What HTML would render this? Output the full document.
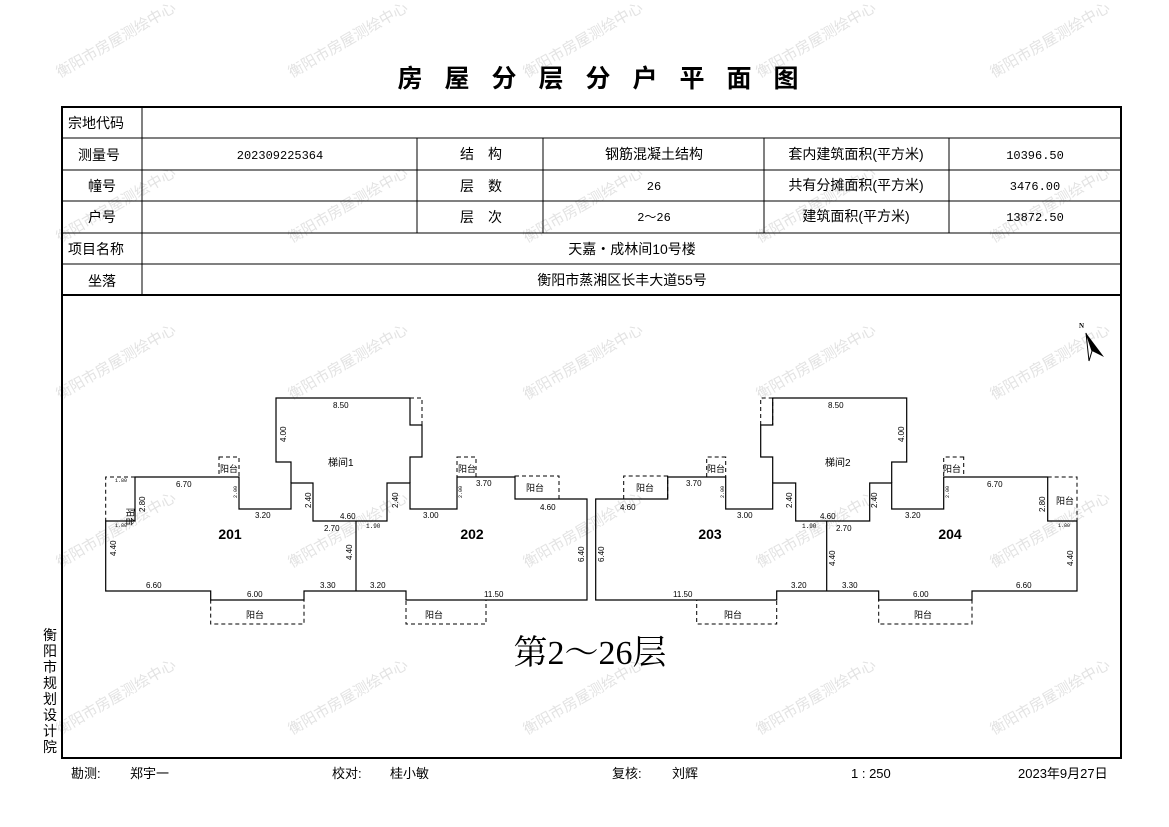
<!DOCTYPE html>
<html><head><meta charset="utf-8"><style>
html,body{margin:0;padding:0;background:#fff;}
svg{display:block;}
text{font-family:"Liberation Sans","Noto Sans CJK SC",sans-serif;}
.t{font-size:14px;fill:#000;}
.m{font-family:"Liberation Mono",monospace;font-size:12px;}
.d{font-size:8px;font-family:"Liberation Mono","Noto Sans CJK SC",monospace;fill:#000;}
.s{font-size:5px;font-family:"Liberation Mono",monospace;fill:#000;}
.w{font-size:15px;fill:#e3e3e3;}
.dash{fill:none;stroke:#000;stroke-width:1;stroke-dasharray:4,3;}
</style></head><body>
<svg width="1169" height="827" viewBox="0 0 1169 827" xmlns="http://www.w3.org/2000/svg">
<g class="w">
<text transform="translate(60,78) rotate(-30)">衡阳市房屋测绘中心</text>
<text transform="translate(292,78) rotate(-30)">衡阳市房屋测绘中心</text>
<text transform="translate(527,78) rotate(-30)">衡阳市房屋测绘中心</text>
<text transform="translate(760,78) rotate(-30)">衡阳市房屋测绘中心</text>
<text transform="translate(994,78) rotate(-30)">衡阳市房屋测绘中心</text>
<text transform="translate(60,243) rotate(-30)">衡阳市房屋测绘中心</text>
<text transform="translate(292,243) rotate(-30)">衡阳市房屋测绘中心</text>
<text transform="translate(527,243) rotate(-30)">衡阳市房屋测绘中心</text>
<text transform="translate(760,243) rotate(-30)">衡阳市房屋测绘中心</text>
<text transform="translate(994,243) rotate(-30)">衡阳市房屋测绘中心</text>
<text transform="translate(60,400) rotate(-30)">衡阳市房屋测绘中心</text>
<text transform="translate(292,400) rotate(-30)">衡阳市房屋测绘中心</text>
<text transform="translate(527,400) rotate(-30)">衡阳市房屋测绘中心</text>
<text transform="translate(760,400) rotate(-30)">衡阳市房屋测绘中心</text>
<text transform="translate(994,400) rotate(-30)">衡阳市房屋测绘中心</text>
<text transform="translate(60,568) rotate(-30)">衡阳市房屋测绘中心</text>
<text transform="translate(292,568) rotate(-30)">衡阳市房屋测绘中心</text>
<text transform="translate(527,568) rotate(-30)">衡阳市房屋测绘中心</text>
<text transform="translate(760,568) rotate(-30)">衡阳市房屋测绘中心</text>
<text transform="translate(994,568) rotate(-30)">衡阳市房屋测绘中心</text>
<text transform="translate(60,735) rotate(-30)">衡阳市房屋测绘中心</text>
<text transform="translate(292,735) rotate(-30)">衡阳市房屋测绘中心</text>
<text transform="translate(527,735) rotate(-30)">衡阳市房屋测绘中心</text>
<text transform="translate(760,735) rotate(-30)">衡阳市房屋测绘中心</text>
<text transform="translate(994,735) rotate(-30)">衡阳市房屋测绘中心</text>
</g>

<text x="609" y="87" text-anchor="middle" style="font-size:25px;font-weight:bold;letter-spacing:22px;font-family:'Noto Sans CJK SC',sans-serif">房屋分层分户平面图</text>

<rect x="62" y="107" width="1059" height="651" fill="none" stroke="#000" stroke-width="2"/>
<g stroke="#000" stroke-width="1">
<line x1="62" y1="138" x2="1121" y2="138"/>
<line x1="62" y1="170" x2="1121" y2="170"/>
<line x1="62" y1="201" x2="1121" y2="201"/>
<line x1="62" y1="233" x2="1121" y2="233"/>
<line x1="62" y1="264" x2="1121" y2="264"/>
<line x1="142" y1="107" x2="142" y2="295"/>
<line x1="417" y1="138" x2="417" y2="233"/>
<line x1="543" y1="138" x2="543" y2="233"/>
<line x1="764" y1="138" x2="764" y2="233"/>
<line x1="949" y1="138" x2="949" y2="233"/>
</g>
<line x1="62" y1="295" x2="1121" y2="295" stroke="#000" stroke-width="2"/>
<g class="t">
<text x="68" y="128">宗地代码</text>
<text x="78" y="160">测量号</text>
<text x="88" y="191">幢号</text>
<text x="88" y="222">户号</text>
<text x="68" y="254">项目名称</text>
<text x="88" y="286">坐落</text>
<text x="280" y="159" text-anchor="middle" class="m">202309225364</text>
<text x="481" y="159" text-anchor="middle">结　构</text>
<text x="481" y="191" text-anchor="middle">层　数</text>
<text x="481" y="222" text-anchor="middle">层　次</text>
<text x="654" y="159" text-anchor="middle">钢筋混凝土结构</text>
<text x="654" y="190" text-anchor="middle" class="m">26</text>
<text x="654" y="221" text-anchor="middle" class="m">2～26</text>
<text x="856" y="159" text-anchor="middle">套内建筑面积(平方米)</text>
<text x="856" y="190" text-anchor="middle">共有分摊面积(平方米)</text>
<text x="856" y="221" text-anchor="middle">建筑面积(平方米)</text>
<text x="1035" y="159" text-anchor="middle" class="m">10396.50</text>
<text x="1035" y="190" text-anchor="middle" class="m">3476.00</text>
<text x="1035" y="221" text-anchor="middle" class="m">13872.50</text>
<text x="632" y="254" text-anchor="middle">天嘉・成林间10号楼</text>
<text x="622" y="285" text-anchor="middle">衡阳市蒸湘区长丰大道55号</text>
</g>

<text x="1079" y="328" style="font-size:7px;font-weight:bold;font-family:'Liberation Serif',serif">N</text>
<polygon points="1086,333 1104,357 1092,351" fill="#000"/>
<polygon points="1086,333 1092,351 1089,361" fill="#fff" stroke="#000" stroke-width="1"/>

<g id="b">
<path d="M105.7,521 L135,521 L135,477 L239,477 L239,509 L291,509 L291,483 L313,483 L313,521 L387,521 L387,483 L410,483 L410,509 L457,509 L457,477 L515,477 L515,499 L587,499 L587,600 L406,600 L406,591 L304,591 L304,600 L210.7,600 L210.7,591 L105.7,591 Z" fill="none" stroke="#000" stroke-width="1.2"/>
<path d="M356,521 L356,591 M291,483 L291,462 L276,462 L276,398 L410,398 L410,425 L422,425 L422,457 L410,457 L410,483" fill="none" stroke="#000" stroke-width="1.2"/>
<path class="dash" d="M135,477 L105.7,477 L105.7,521"/>
<rect class="dash" x="219" y="457" width="20" height="20"/>
<rect class="dash" x="457" y="457" width="19" height="20"/>
<rect class="dash" x="515" y="476" width="44" height="23"/>
<rect class="dash" x="210.7" y="600" width="93.3" height="24"/>
<rect class="dash" x="406" y="600" width="80" height="24"/>
<rect class="dash" x="410" y="398" width="12" height="27"/>
</g>
<use href="#b" transform="translate(1182.7,0) scale(-1,1)"/>

<g class="d">
<text x="333" y="408">8.50</text>
<text transform="translate(286,442) rotate(-90)">4.00</text>
<text x="328" y="466" style="font-size:10px">梯间1</text>
<text x="176" y="487">6.70</text>
<text transform="translate(145,512) rotate(-90)">2.80</text>
<text x="255" y="518">3.20</text>
<text x="340" y="519">4.60</text>
<text transform="translate(311,508) rotate(-90)">2.40</text>
<text transform="translate(398,508) rotate(-90)">2.40</text>
<text x="324" y="531">2.70</text>
<text x="366" y="528" class="s" style="font-size:6px">1.90</text>
<text x="423" y="518">3.00</text>
<text x="476" y="486">3.70</text>
<text x="540" y="510">4.60</text>
<text transform="translate(584,562) rotate(-90)">6.40</text>
<text transform="translate(116,556) rotate(-90)">4.40</text>
<text transform="translate(352,560) rotate(-90)">4.40</text>
<text x="146" y="588">6.60</text>
<text x="247" y="597">6.00</text>
<text x="320" y="588">3.30</text>
<text x="370" y="588">3.20</text>
<text x="484" y="597">11.50</text>
<text transform="translate(237,498) rotate(-90)" class="s">2.00</text>
<text transform="translate(462,498) rotate(-90)" class="s">2.00</text>
<text x="115" y="482" class="s">1.80</text>
<text x="115" y="527" class="s">1.80</text>
<text x="246" y="618" style="font-size:9px">阳台</text>
<text x="425" y="618" style="font-size:9px">阳台</text>
<text x="220" y="472" style="font-size:9px">阳台</text>
<text x="458" y="472" style="font-size:9px">阳台</text>
<text x="526" y="491" style="font-size:9px">阳台</text>
<text transform="translate(127,508) rotate(90)" style="font-size:9px">阳台</text>
<text x="828" y="408">8.50</text>
<text transform="translate(904,442) rotate(-90)">4.00</text>
<text x="825" y="466" style="font-size:10px">梯间2</text>
<text x="987" y="487">6.70</text>
<text transform="translate(1045,512) rotate(-90)">2.80</text>
<text x="905" y="518">3.20</text>
<text x="820" y="519">4.60</text>
<text transform="translate(792,508) rotate(-90)">2.40</text>
<text transform="translate(877,508) rotate(-90)">2.40</text>
<text x="836" y="531">2.70</text>
<text x="802" y="528" class="s" style="font-size:6px">1.90</text>
<text x="737" y="518">3.00</text>
<text x="686" y="486">3.70</text>
<text x="620" y="510">4.60</text>
<text transform="translate(604,562) rotate(-90)">6.40</text>
<text transform="translate(1073,566) rotate(-90)">4.40</text>
<text transform="translate(835,566) rotate(-90)">4.40</text>
<text x="1016" y="588">6.60</text>
<text x="913" y="597">6.00</text>
<text x="842" y="588">3.30</text>
<text x="791" y="588">3.20</text>
<text x="673" y="597">11.50</text>
<text transform="translate(949,498) rotate(-90)" class="s">2.00</text>
<text transform="translate(724,498) rotate(-90)" class="s">2.00</text>
<text x="1058" y="527" class="s">1.80</text>
<text x="724" y="618" style="font-size:9px">阳台</text>
<text x="914" y="618" style="font-size:9px">阳台</text>
<text x="707" y="472" style="font-size:9px">阳台</text>
<text x="943" y="472" style="font-size:9px">阳台</text>
<text x="636" y="491" style="font-size:9px">阳台</text>
<text x="1056" y="504" style="font-size:9px">阳台</text>
</g>
<g style="font-size:14px;font-weight:bold;font-family:'Liberation Serif',serif">
<text x="230" y="539" text-anchor="middle">201</text>
<text x="472" y="539" text-anchor="middle">202</text>
<text x="710" y="539" text-anchor="middle">203</text>
<text x="950" y="539" text-anchor="middle">204</text>
</g>

<text x="590" y="664" text-anchor="middle" style="font-size:34px;font-family:'Liberation Serif','Noto Serif CJK SC',serif">第2～26层</text>

<g class="t" style="font-size:14px">
<text x="43" y="640">衡</text><text x="43" y="656">阳</text><text x="43" y="672">市</text><text x="43" y="688">规</text>
<text x="43" y="704">划</text><text x="43" y="720">设</text><text x="43" y="736">计</text><text x="43" y="752">院</text>
</g>

<g class="t" style="font-size:13px">
<text x="71" y="778">勘测:</text>
<text x="130" y="778">郑宇一</text>
<text x="332" y="778">校对:</text>
<text x="390" y="778">桂小敏</text>
<text x="612" y="778">复核:</text>
<text x="672" y="778">刘辉</text>
<text x="851" y="778">1 : 250</text>
<text x="1018" y="778">2023年9月27日</text>
</g>
</svg>
</body></html>
